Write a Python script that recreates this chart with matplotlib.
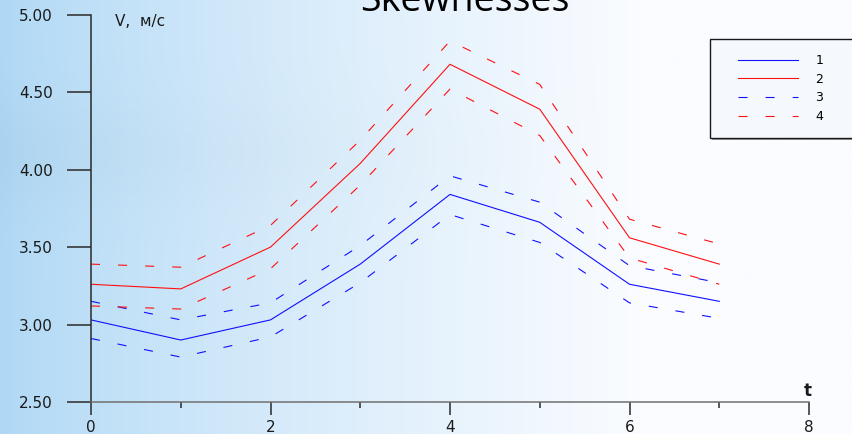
import numpy as np
import matplotlib
matplotlib.use("Agg")
import matplotlib.pyplot as plt
from matplotlib.patches import Rectangle

# values
t = [0, 1, 2, 3, 4, 5, 6, 7]
v1 = [3.03, 2.90, 3.03, 3.39, 3.84, 3.66, 3.26, 3.15]
v2 = [3.26, 3.23, 3.50, 4.04, 4.68, 4.39, 3.56, 3.39]
v3_up = [3.15, 3.03, 3.14, 3.51, 3.96, 3.79, 3.38, 3.27]
v3_lo = [2.91, 2.79, 2.92, 3.27, 3.71, 3.53, 3.14, 3.04]
v4_up = [3.39, 3.37, 3.64, 4.19, 4.83, 4.55, 3.68, 3.52]
v4_lo = [3.12, 3.10, 3.36, 3.90, 4.52, 4.22, 3.43, 3.26]
yticks = [2.5, 3.0, 3.5, 4.0, 4.5, 5.0]
xticks = [0, 2, 4, 6, 8]

plt.rcParams['font.family'] = ['DejaVu Sans']
plt.rcParams['lines.scale_dashes'] = False

W, H = 852, 434
fig = plt.figure(figsize=(W / 100, H / 100), dpi=100)

#background gradient, blue on the left fading to white
bg = fig.add_axes([0, 0, 1, 1], zorder=0)
xx = np.linspace(0, 1, 300)
yy = np.linspace(0, 1, 150)
X, Y = np.meshgrid(xx, yy)
fade = np.clip(X / 0.75, 0, 1) ** 0.8
left = np.array([175, 216, 245]) / 255
right = np.array([250, 252, 255]) / 255
img = left[None, None, :] * (1 - fade[..., None]) + right[None, None, :] * fade[..., None]
band = 0.04 * np.exp(-((Y - 0.35) / 0.12) ** 2) * (1 - fade)
img = np.clip(img - band[..., None] * 0.5, 0, 1)
bg.imshow(img, aspect='auto', extent=[0, 1, 0, 1], origin='upper')
bg.axis('off')

ax = fig.add_axes([91 / W, 32 / H, 718 / W, 387.3 / H], zorder=1)
ax.patch.set_alpha(0)

dash = (0, (6.5, 13))
lw = 0.8
l1, = ax.plot(t, v1, color='#1010ff', lw=lw, label='1')
l2, = ax.plot(t, v2, color='#ff1010', lw=lw, label='2')
l3, = ax.plot(t, v3_up, color='#1010ff', lw=lw, linestyle=dash, label='3')
ax.plot(t, v3_lo, color='#1010ff', lw=lw, linestyle=dash)
l4, = ax.plot(t, v4_up, color='#ff1010', lw=lw, linestyle=dash, label='4')
ax.plot(t, v4_lo, color='#ff1010', lw=lw, linestyle=dash)

ax.set_xlim(0, 8)
ax.set_ylim(2.5, 5.0)
ax.set_yticks(yticks)
ax.set_yticklabels(['%.2f' % v for v in yticks])
ax.set_xticks(xticks)
ax.set_xticks([1, 3, 5, 7], minor=True)
ax.set_xticklabels([str(v) for v in xticks])

for s in ['top', 'right']:
    ax.spines[s].set_visible(False)
ax.spines['left'].set_color('#2a2a2a')
ax.spines['bottom'].set_color('#707070')
ax.spines['left'].set_linewidth(1.1)
ax.spines['bottom'].set_linewidth(1.1)

ax.tick_params(axis='y', direction='out', length=17.5, width=1.1, color='#2a2a2a',
               pad=10, labelsize=11, labelcolor='#1a1a1a')
ax.tick_params(axis='x', which='major', direction='out', length=9.5, width=1.1,
               color='#2a2a2a', pad=3.5, labelsize=11, labelcolor='#1a1a1a')
ax.tick_params(axis='x', which='minor', direction='out', length=4, width=1.1,
               color='#2a2a2a')

ax.text(115 / W, 1 - 21 / H, 'V,  м/с', transform=fig.transFigure,
        fontsize=11, va='center', ha='left', color='#1a1a1a')
ax.text(808 / W, 1 - 391 / H, 't', transform=fig.transFigure,
        fontsize=12, fontweight='bold', va='center', ha='center', color='#1a1a1a')

fig.text(465 / W, 1 - 11 / H, 'Skewnesses', ha='center', va='baseline',
         fontsize=27, family='Open Sans', color='black')

#legend box running off the right edge, with a grey shadow under it
shadow = Rectangle((712 / W, 1 - 140 / H), 170 / W, 99 / H, transform=fig.transFigure,
                   facecolor='#9a9a9a', edgecolor='none', clip_on=False, zorder=2)
box = Rectangle((710 / W, 1 - 138 / H), 170 / W, 99 / H, transform=fig.transFigure,
                facecolor='#f5f9fd', edgecolor='#1a1a1a', lw=1.0, clip_on=False, zorder=2)
fig.patches.append(shadow)
fig.patches.append(box)
leg = fig.legend(handles=[l1, l2, l3, l4], loc='upper left',
                 bbox_to_anchor=(738 / W, 1 - 54 / H), frameon=False,
                 fontsize=9, handlelength=4.8, handletextpad=1.4,
                 labelspacing=0.45, borderaxespad=0, borderpad=0)
leg.set_zorder(3)

fig.savefig('out.png', dpi=100)
